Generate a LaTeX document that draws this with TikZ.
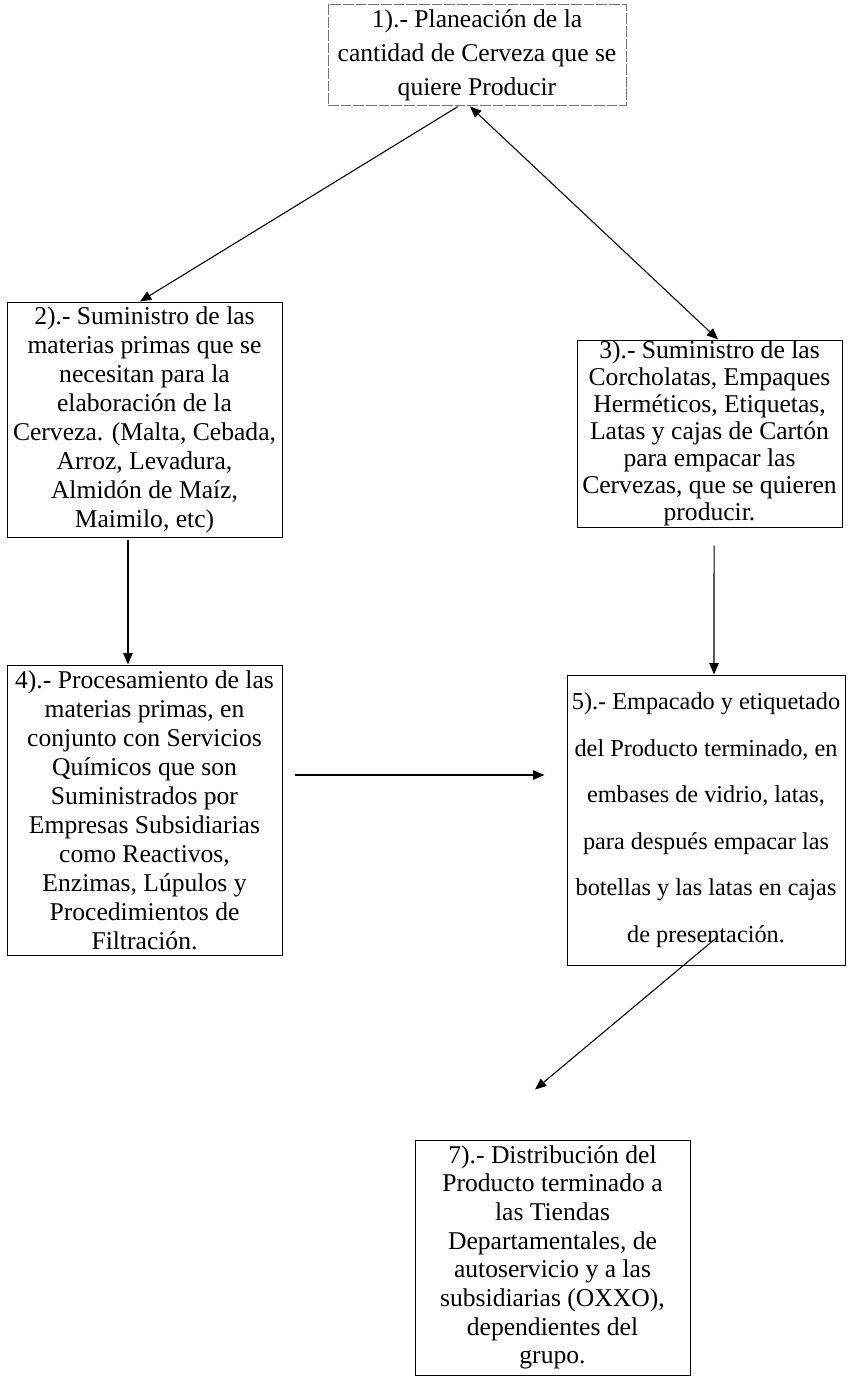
\documentclass[tikz,border=0pt]{standalone}
\usepackage{fontspec}
\setmainfont{Liberation Serif}
\usetikzlibrary{arrows.meta}
\tikzset{
  box/.style={draw=black, line width=0.75pt, inner sep=0pt, align=center, text=black},
  fa/.style={font=\fontsize{19.2pt}{21.75pt}\selectfont},
  arr/.style={line width=0.8pt, -{Triangle[length=8.5pt,width=7pt]}},
  darr/.style={line width=0.8pt, {Triangle[length=8.5pt,width=7pt]}-{Triangle[length=8.5pt,width=7pt]}},
}
\begin{document}
\begin{tikzpicture}[x=0.75pt,y=-0.75pt]
\fill[white] (0,0) rectangle (860,1377);
\useasboundingbox (0,0) rectangle (860,1377);

\node[box, draw=black!55, dash pattern=on 8pt off 1.5pt, minimum width=223.5pt, minimum height=75.75pt,
      font=\fontsize{19.2pt}{25.5pt}\selectfont] (b1) at (477,55.5)
  {1).- Planeación de la\\cantidad de Cerveza que se\\quiere Producir};

\node[box, fa, minimum width=206.25pt, minimum height=176.25pt] (b2) at (144.5,419.5)
  {2).- Suministro de las\\materias primas que se\\necesitan para la\\elaboración de la\\Cerveza. (Malta, Cebada,\\Arroz, Levadura,\\Almidón de Maíz,\\Maimilo, etc)};

\node[box, font=\fontsize{19.2pt}{20.2pt}\selectfont, minimum width=198.75pt, minimum height=140.25pt] (b3) at (709.5,433.5)
  {3).- Suministro de las\\Corcholatas, Empaques\\Herméticos, Etiquetas,\\Latas y cajas de Cartón\\para empacar las\\Cervezas, que se quieren\\producir.};

\node[box, fa, minimum width=206.25pt, minimum height=217.5pt] (b4) at (144.5,810)
  {4).- Procesamiento de las\\materias primas, en\\conjunto con Servicios\\Químicos que son\\Suministrados por\\Empresas Subsidiarias\\como Reactivos,\\Enzimas, Lúpulos y\\Procedimientos de\\Filtración.};

\node[box, font=\fontsize{18.2pt}{34.9pt}\selectfont, minimum width=208.5pt, minimum height=217.5pt] (b5) at (706,820)
  {5).- Empacado y etiquetado\\del Producto terminado, en\\embases de vidrio, latas,\\para después empacar las\\botellas y las latas en cajas\\de presentación.};

\node[box, font=\fontsize{19.2pt}{21.5pt}\selectfont, minimum width=206.25pt, minimum height=176.25pt] (b7) at (552.5,1257.5)
  {7).- Distribución del\\Producto terminado a\\las Tiendas\\Departamentales, de\\autoservicio y a las\\subsidiarias (OXXO),\\dependientes del\\grupo.};

\draw[arr] ([xshift=-14.25pt]b1.south) -- ([xshift=-3.4pt]b2.north);
\draw[darr] ([xshift=-5.25pt]b1.south) -- ([xshift=6.4pt]b3.north);
\draw[arr, shorten <=2pt] ([xshift=-12.4pt]b2.south) -- ([xshift=-12.4pt]b4.north);
\draw[arr, shorten <=13.5pt] ([xshift=3.4pt]b3.south) -- ([xshift=6pt]b5.north);
\draw[arr, shorten <=9pt, shorten >=16.5pt] ([yshift=26.25pt]b4.east) -- ([yshift=33.75pt]b5.west);
\draw[arr] ([xshift=9pt,yshift=21.75pt]b5.south) -- ([xshift=-13.1pt,yshift=37.5pt]b7.north);
\end{tikzpicture}
\end{document}
